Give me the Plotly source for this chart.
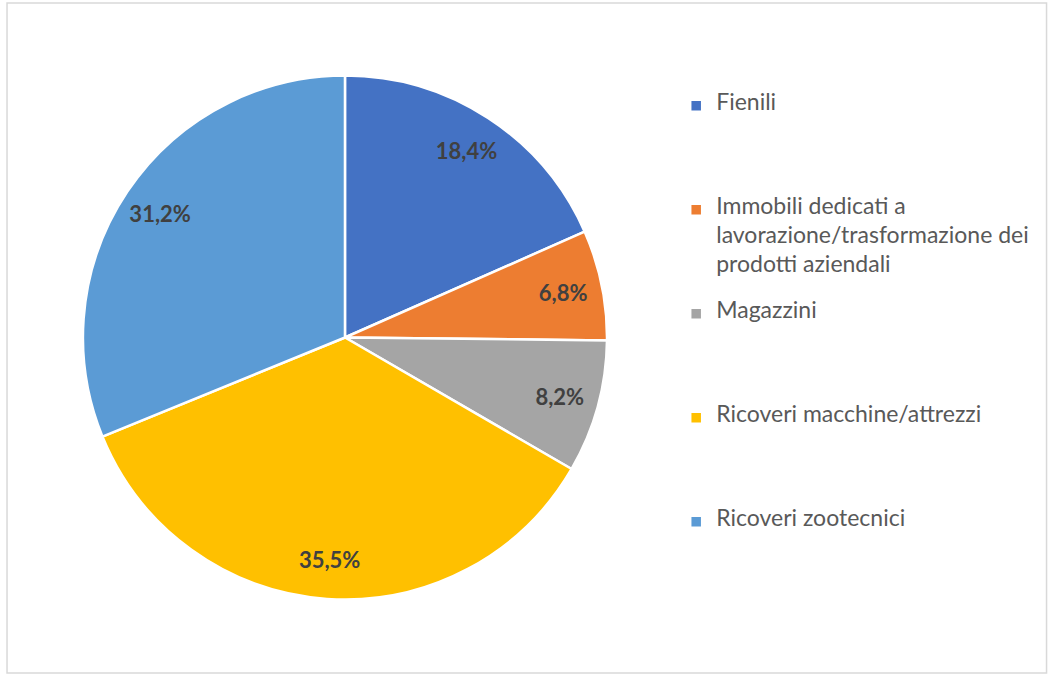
import plotly.graph_objects as go

categories = ["Fienili",
              "Immobili dedicati a",
              "Magazzini",
              "Ricoveri macchine/attrezzi",
              "Ricoveri zootecnici"]
category_extra_lines = [[], ["lavorazione/trasformazione dei", "prodotti aziendali"], [], [], []]
values = [18.4, 6.8, 8.2, 35.5, 31.2]
value_labels = ["18,4%", "6,8%", "8,2%", "35,5%", "31,2%"]
colors = ["#4472C4", "#ED7D31", "#A5A5A5", "#FFC000", "#5B9BD5"]

LEGEND_TEXT_SIZE = 23
SLOT_LINES = 7  # every legend entry occupies the same number of (half-height) lines


def legend_name(first, extra):
    lines = [first] + extra
    out = ['<span style="font-size:%dpx">%s</span>' % (LEGEND_TEXT_SIZE, ln) for ln in lines]
    parts = []
    for i, ln in enumerate(out):
        if i > 0:
            parts.append(" ")
        parts.append(ln)
    while len(parts) < SLOT_LINES:
        parts.append(" ")
    return "<br>".join(parts)


legend_names = [legend_name(c, e) for c, e in zip(categories, category_extra_lines)]

domain = dict(x=[0.0790, 0.5781], y=[0.1111, 0.8889])

pie = go.Pie(
    labels=legend_names,
    values=values,
    textinfo="none",
    marker=dict(colors=colors, line=dict(color="white", width=2.5)),
    sort=False,
    direction="clockwise",
    rotation=0,
    domain=domain,
    hoverinfo="percent",
)

# transparent ring used only to place the percentage labels toward the outer edge
label_ring = go.Pie(
    labels=legend_names,
    values=values,
    text=value_labels,
    textinfo="text",
    textposition="inside",
    insidetextorientation="horizontal",
    textfont=dict(family="Lato", size=22, color="#404040", weight="bold"),
    marker=dict(colors=["rgba(0,0,0,0)"] * len(values), line=dict(width=0)),
    hole=0.70,
    sort=False,
    direction="clockwise",
    rotation=0,
    domain=domain,
    showlegend=False,
    hoverinfo="skip",
)

fig = go.Figure([pie, label_ring])

fig.update_layout(
    width=1050, height=675,
    margin=dict(l=0, r=0, t=0, b=0),
    paper_bgcolor="white",
    plot_bgcolor="white",
    showlegend=True,
    legend=dict(
        x=0.644, y=0.8637, xanchor="left", yanchor="top",
        valign="top",
        font=dict(family="Lato", size=11.1, color="#595959"),
        bgcolor="rgba(0,0,0,0)",
    ),
    uniformtext=dict(minsize=16, mode="show"),
    shapes=[dict(type="rect", xref="paper", yref="paper",
                 x0=0.0067, x1=0.9967, y0=0.003, y1=0.9955,
                 line=dict(color="#D9D9D9", width=1.5), fillcolor="rgba(0,0,0,0)")],
)

fig.write_html("out.html")
